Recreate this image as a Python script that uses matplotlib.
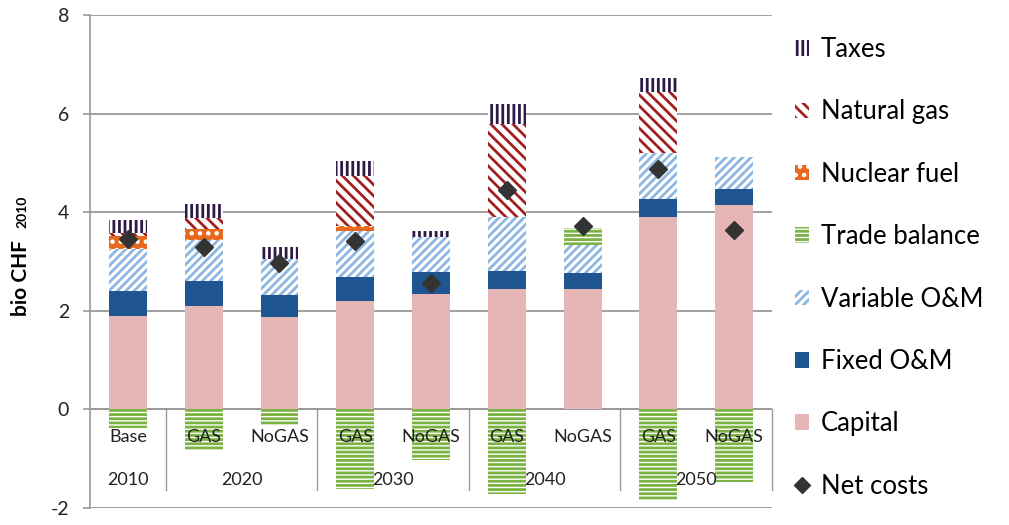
import numpy as np
import matplotlib.pyplot as plt
from matplotlib.patches import Patch
from matplotlib.lines import Line2D

plt.rcParams['font.family'] = ['Lato', 'DejaVu Sans']
plt.rcParams['hatch.linewidth'] = 2.0

categories = ['Base', 'GAS', 'NoGAS', 'GAS', 'NoGAS', 'GAS', 'NoGAS', 'GAS', 'NoGAS']
years = ['2010', '2020', '2030', '2040', '2050']
year_groups = [[0], [1, 2], [3, 4], [5, 6], [7, 8]]

capital = [1.89, 2.10, 1.87, 2.20, 2.35, 2.45, 2.45, 3.90, 4.14]
fixed_om = [0.51, 0.51, 0.45, 0.48, 0.44, 0.35, 0.32, 0.37, 0.33]
variable_om = [0.85, 0.82, 0.74, 0.94, 0.70, 1.10, 0.56, 0.93, 0.64]
trade_balance = [-0.37, -0.83, -0.32, -1.62, -1.03, -1.72, 0.35, -1.83, -1.47]
nuclear_fuel = [0.27, 0.23, 0.0, 0.09, 0.0, 0.0, 0.0, 0.0, 0.0]
natural_gas = [0.06, 0.22, 0.0, 1.02, 0.0, 1.89, 0.0, 1.24, 0.0]
taxes = [0.27, 0.28, 0.23, 0.30, 0.13, 0.41, 0.0, 0.29, 0.0]
net_costs = [3.45, 3.29, 2.96, 3.42, 2.57, 4.45, 3.72, 4.87, 3.64]

# name, values, facecolor, hatch colour, hatch
series = [
    ('Capital', capital, '#e6b5b5', None, None),
    ('Fixed O&M', fixed_om, '#1f5591', None, None),
    ('Variable O&M', variable_om, 'white', '#8db6e3', '////'),
    ('Trade balance', trade_balance, 'white', '#7bb342', '----'),
    ('Nuclear fuel', nuclear_fuel, '#e8691e', 'white', '..'),
    ('Natural gas', natural_gas, 'white', '#a32020', '\\\\\\'),
    ('Taxes', taxes, 'white', '#2e1a47', '|||'),
]

fig = plt.figure(figsize=(10.09, 5.25), dpi=100)
ax = fig.add_axes([90 / 1009, 1 - 508 / 525, 682 / 1009, 493 / 525])

x = np.arange(len(categories))
width = 0.5
pos_bottom = np.zeros(len(categories))
neg_bottom = np.zeros(len(categories))
handles = {}
for name, vals, fc, hc, hatch in series:
    vals = np.array(vals)
    bottom = np.where(vals >= 0, pos_bottom, neg_bottom)
    ax.bar(x, vals, width, bottom=bottom, color=fc,
           edgecolor=hc if hc else fc, linewidth=0, hatch=hatch, zorder=3)
    pos_bottom += np.where(vals > 0, vals, 0)
    neg_bottom += np.where(vals < 0, vals, 0)
    handles[name] = Patch(facecolor=fc, edgecolor=hc if hc else fc,
                          linewidth=0, hatch=hatch)

ax.plot(x, net_costs, linestyle='none', marker='D', markersize=9,
        color='#333333', zorder=5)
handles['Net costs'] = Line2D([], [], linestyle='none', marker='D',
                              markersize=8, color='#333333')

ax.set_xlim(-0.5, len(categories) - 0.5)
ax.set_ylim(-2, 8)
ax.set_yticks([-2, 0, 2, 4, 6, 8])
ax.set_yticklabels(['-2', '0', '2', '4', '6', '8'])
ax.set_xticks([])
ax.tick_params(axis='y', length=5, width=1.2, color='#999999', pad=10,
               labelsize=14, labelcolor='#222222')
for s in ['top', 'right', 'bottom']:
    ax.spines[s].set_visible(False)
ax.spines['left'].set_color('#999999')
ax.spines['left'].set_linewidth(1.2)
ax.yaxis.grid(True, color='#999999', linewidth=1.3, zorder=0)
ax.set_axisbelow(True)
ax.axhline(0, color='#999999', linewidth=1.3, zorder=2)

# category axis below zero
for b in [0.5, 2.5, 4.5, 6.5, 8.5]:
    ax.plot([b, b], [0, -1.64], color='#999999', linewidth=1.0, zorder=2,
            clip_on=False)
for xi, lab in zip(x, categories):
    ax.text(xi, -0.56, lab, ha='center', va='center', fontsize=13,
            color='#222222', zorder=6)
for grp, yr in zip(year_groups, years):
    ax.text(np.mean(grp), -1.43, yr, ha='center', va='center', fontsize=13,
            color='#222222', zorder=6)

fig.text(0.021, 1 - 278 / 525, 'bio CHF', rotation=90, ha='center', va='center',
         fontsize=15, fontweight='bold')
fig.text(0.022, 1 - 212 / 525, '2010', rotation=90, ha='center', va='center',
         fontsize=10, fontweight='bold')

order = ['Taxes', 'Natural gas', 'Nuclear fuel', 'Trade balance',
         'Variable O&M', 'Fixed O&M', 'Capital', 'Net costs']
fig.legend([handles[k] for k in order], order, loc='upper left',
           bbox_to_anchor=(795 / 1009, 1 - 37 / 525), frameon=False,
           fontsize=18.5, handlelength=0.55, handleheight=0.55,
           handletextpad=0.45, labelspacing=1.455, borderaxespad=0,
           borderpad=0)

fig.savefig('out.png', dpi=100)
